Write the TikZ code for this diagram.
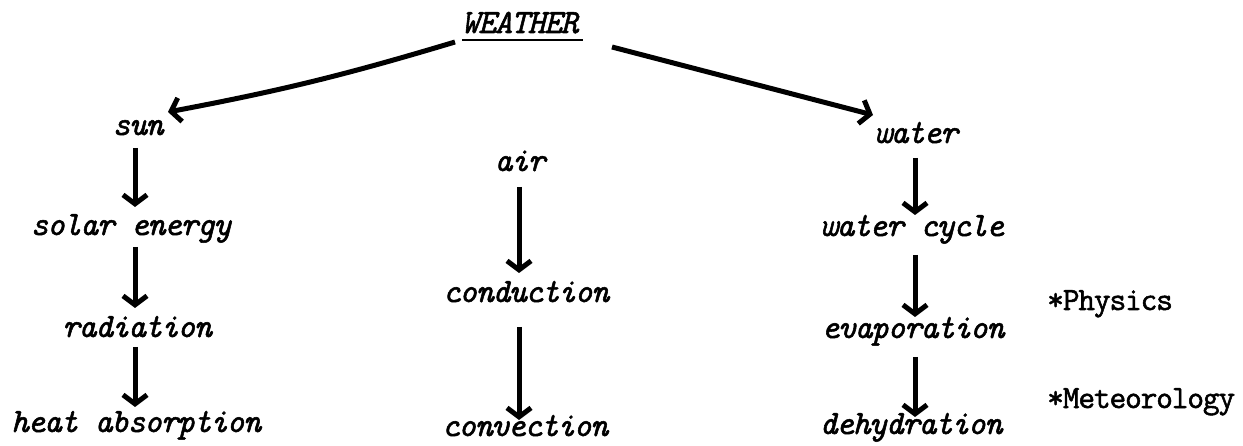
\documentclass[tikz,border=0pt]{standalone}
\usepackage{fontspec}
\newfontfamily\twfont{Latin Modern Mono}[FakeBold=1.6,LetterSpace=-4]
\newfontfamily\twnote{Latin Modern Mono}[FakeBold=1.6,LetterSpace=-3.6]
\usetikzlibrary{arrows.meta,calc}
\begin{document}
\begin{tikzpicture}[x=1pt,y=-1pt,
  lbl/.style={inner sep=0pt, anchor=base, font=\fontsize{34}{36}\selectfont\twfont\itshape},
  note/.style={inner sep=0pt, anchor=base west, font=\fontsize{32.5}{36}\selectfont\twnote},
  arr/.style={line width=5pt, -{Straight Barb[length=9pt,width=24pt]}},
  ]
\useasboundingbox (0,0) rectangle (1243,446);
% column guides
\coordinate (cL) at (135,0);
\coordinate (cM) at (519,0);
\coordinate (cR) at (915,0);
% title
\node[lbl] (W) at (520,33) {WEATHER};
\draw[line width=2.5pt] ($(W.base)+(-58,7)$) -- ($(W.base)+(63,7)$);
% left column
\node[lbl] (sun)   at (138,135) {sun};
\node[lbl] (solar) at (131,235) {solar energy};
\node[lbl] (rad)   at (137,337) {radiation};
\node[lbl] (heat)  at (136,432) {heat absorption};
% middle column
\node[lbl] (air)  at (520,171) {air};
\node[lbl] (cond) at (526,302) {conduction};
\node[lbl] (conv) at (525,436) {convection};
% right column
\node[lbl] (water) at (916,143) {water};
\node[lbl] (cycle) at (912,236) {water cycle};
\node[lbl] (evap)  at (913,338) {evaporation};
\node[lbl] (dehyd) at (911,434) {dehydration};
% notes
\node[note] (phys) at (1047,310) {*Physics};
\node[note] (met)  at (1047,408) {*Meteorology};
% branch arrows
\draw[arr] ($(W.base)+(-65,9)$) to[bend left=3] ($(sun.base)+(30,-23)$);
\draw[arr] ($(W.base)+(92,14)$) -- ($(water.base)+(-43,-28)$);
% left chain
\draw[arr] ($(sun.base -| cL)+(0,13)$) -- ($(solar.base -| cL)+(0,-28)$);
\draw[arr] ($(solar.base -| cL)+(0,12)$) -- ($(rad.base -| cL)+(0,-29)$);
\draw[arr] ($(rad.base -| cL)+(0,10)$) -- ($(heat.base -| cL)+(0,-25)$);
% middle chain
\draw[arr] ($(air.base -| cM)+(0,16)$) -- ($(cond.base -| cM)+(0,-29)$);
\draw[arr] ($(cond.base -| cM)+(0,25)$) -- ($(conv.base -| cM)+(0,-16)$);
% right chain
\draw[arr] ($(water.base -| cR)+(0,15)$) -- ($(cycle.base -| cR)+(0,-21)$);
\draw[arr] ($(cycle.base -| cR)+(0,19)$) -- ($(evap.base -| cR)+(0,-21)$);
\draw[arr] ($(evap.base -| cR)+(0,19)$) -- ($(dehyd.base -| cR)+(0,-17)$);
\end{tikzpicture}
\end{document}
